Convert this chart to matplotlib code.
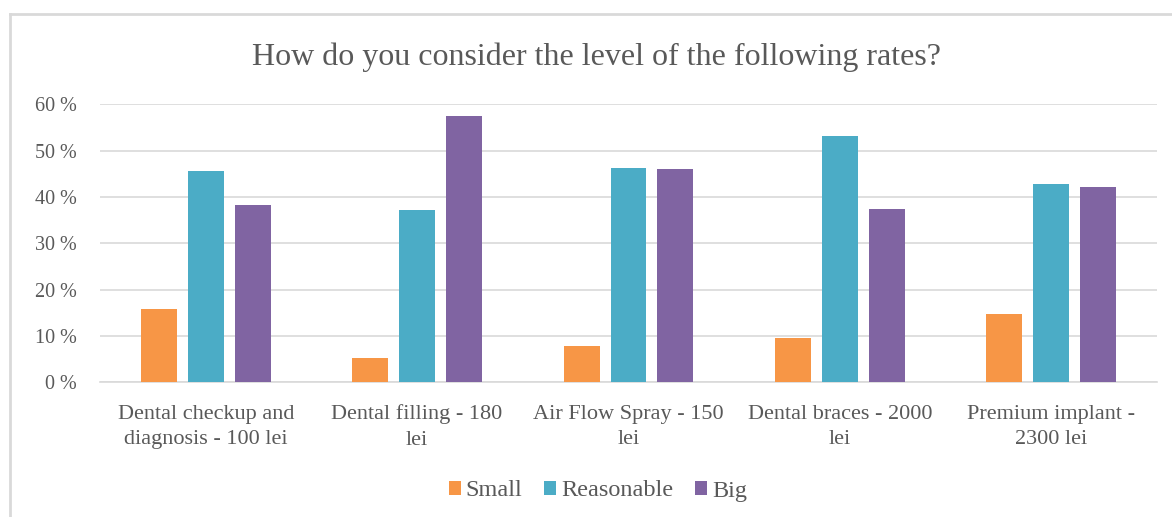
import numpy as np
import matplotlib
matplotlib.use("Agg")
import matplotlib.pyplot as plt
from matplotlib.lines import Line2D
from matplotlib.ticker import FuncFormatter

plt.rcParams["font.family"] = ["Liberation Serif", "DejaVu Serif"]

# ---- dados ----
categories = ["Dental checkup and\ndiagnosis - 100 lei", "Dental filling - 180\nlei",
              "Air Flow Spray - 150\nlei", "Dental braces - 2000\nlei",
              "Premium implant -\n2300 lei"]
small = [15.8, 5.3, 7.8, 9.5, 14.7]
reasonable = [45.7, 37.2, 46.3, 53.2, 42.9]
big = [38.2, 57.4, 46.0, 37.4, 42.1]
series_names = ["Small", "Reasonable", "Big"]
yticks = [0, 10, 20, 30, 40, 50, 60]

colors = ["#F79646", "#4BACC6", "#8064A2"]
txt = "#595959"
grid = "#D9D9D9"

W, H = 1172, 517
fig = plt.figure(figsize=(W / 100, H / 100), dpi=100)
ax = fig.add_axes([100 / W, 1 - 382.3 / H, 1057 / W, 278 / H])

x = np.arange(len(categories))
bw, off = 0.17, 0.222
for i, (vals, nm) in enumerate(zip([small, reasonable, big], series_names)):
    ax.bar(x + (i - 1) * off, vals, bw, color=colors[i], label=nm, zorder=3)

ax.set_xlim(-0.5, len(categories) - 0.5)
ax.set_ylim(0, 60)
ax.set_yticks(yticks)
ax.yaxis.set_major_formatter(FuncFormatter(lambda v, p: f"{v:.0f} %"))
ax.set_xticks(x)
ax.set_xticklabels(categories, fontsize=16, color=txt, linespacing=1.45)
ax.tick_params(axis="y", length=0, pad=17, labelsize=14.5, labelcolor=txt)
ax.tick_params(axis="x", length=0, pad=16)
ax.grid(axis="y", color=grid, lw=1.2, zorder=0)
for s in ["top", "right", "left"]:
    ax.spines[s].set_visible(False)
ax.spines["bottom"].set_color(grid)
ax.spines["bottom"].set_linewidth(1.2)

fig.text(596 / W, 1 - 65 / H, "How do you consider the level of the following rates?",
         ha="center", va="baseline", fontsize=23, color=txt)

fig.legend(loc="center", bbox_to_anchor=(598 / W, 1 - 491 / H), ncol=3, frameon=False,
           fontsize=17.5, labelcolor=txt, handlelength=0.5, handleheight=0.5,
           handletextpad=0.2, columnspacing=0.9)

# moldura do grafico
fig.add_artist(Line2D([10 / W, 1], [1 - 14 / H] * 2, color=grid, lw=2))
fig.add_artist(Line2D([10 / W] * 2, [0, 1 - 14 / H], color=grid, lw=2))

fig.savefig("out.png", dpi=100, facecolor="white")
